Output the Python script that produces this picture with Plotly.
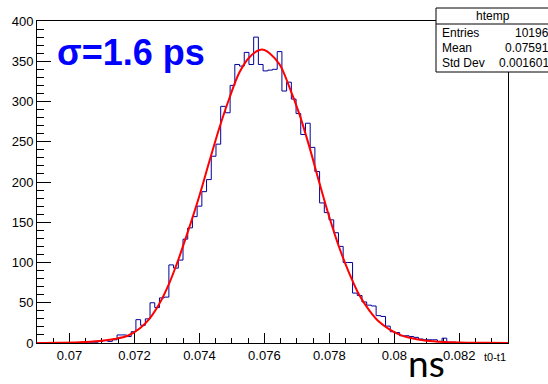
import numpy as np
import plotly.graph_objects as go

# ---- data ----
XMIN, XMAX, NBINS = 0.069, 0.0835, 100
COUNTS = [0, 0, 0, 0, 0, 0, 0, 0, 0, 0,
          1, 1, 1, 2, 3, 2, 4, 10, 10, 8,
          14, 29, 22, 30, 50, 44, 56, 57, 97, 93,
          103, 129, 143, 157, 170, 188, 203, 232, 247, 294,
          286, 320, 346, 344, 361, 346, 380, 346, 338, 339,
          340, 362, 313, 324, 303, 285, 259, 273, 243, 213,
          174, 162, 153, 137, 120, 100, 100, 62, 59, 51,
          47, 46, 34, 33, 21, 14, 13, 9, 9, 8,
          7, 5, 4, 4, 4, 2, 6, 1, 1, 0,
          0, 0, 0, 0, 0, 0, 0, 0, 0, 0]

FIT_X = [0.06900, 0.06969, 0.07031, 0.07092, 0.07139, 0.07179, 0.07216, 0.07246,
         0.07277, 0.07308, 0.07339, 0.07370, 0.07400, 0.07431, 0.07462, 0.07493,
         0.07523, 0.07554, 0.07585, 0.07600, 0.07616, 0.07647, 0.07677, 0.07708,
         0.07739, 0.07770, 0.07801, 0.07831, 0.07862, 0.07893, 0.07924, 0.07954,
         0.07985, 0.08016, 0.08047, 0.08093, 0.08139, 0.08201, 0.08278, 0.08350]
FIT_Y = [0.1, 0.3, 0.9, 2.5, 5, 9, 18, 30,
         49, 75, 108, 145, 183, 226, 268, 305,
         336, 355, 364, 364, 360, 346, 318, 284,
         243, 198, 155, 118, 86, 59, 40, 26,
         17, 10.5, 6.5, 3, 1.5, 0.5, 0.2, 0.1]

XTICKS = [0.07, 0.072, 0.074, 0.076, 0.078, 0.08, 0.082]
XTICK_TEXT = ["0.07", "0.072", "0.074", "0.076", "0.078", "0.08", "0.082"]
YTICKS = [0, 50, 100, 150, 200, 250, 300, 350, 400]

STATS_TITLE = "htemp"
STATS_NAMES = ["Entries", "Mean", "Std Dev"]
STATS_VALUES = ["10196", "0.07591", "0.001601"]
SIGMA_TEXT = "σ=1.6 ps"
UNIT_TEXT = "ns"
XTITLE = "t0-t1"

# ---- layout geometry (pixels) ----
W, H = 548, 384
L, R, T, B = 37, 508, 21, 343


def px(xp):
    return (xp - L) / (R - L)


def py(yp):
    return (B - yp) / (B - T)


edges = np.linspace(XMIN, XMAX, NBINS + 1)
step_y = list(COUNTS) + [COUNTS[-1]]

fig = go.Figure()
fig.add_trace(go.Scatter(x=edges, y=step_y, mode="lines",
                         line=dict(shape="hv", color="#000099", width=1),
                         hoverinfo="skip"))
fig.add_trace(go.Scatter(x=FIT_X, y=FIT_Y, mode="lines",
                         line=dict(shape="spline", color="#ff0000", width=2),
                         hoverinfo="skip"))

axis_font = dict(family="Liberation Sans, Arial, sans-serif", size=13, color="black")
fig.update_layout(
    width=W, height=H,
    margin=dict(l=L, r=W - R, t=T, b=H - B, pad=0),
    paper_bgcolor="white", plot_bgcolor="white",
    showlegend=False,
    xaxis=dict(range=[XMIN, XMAX], showgrid=False, zeroline=False,
               showline=True, linecolor="black", linewidth=1, mirror=True,
               tickmode="array", tickvals=XTICKS, ticktext=XTICK_TEXT,
               ticks="inside", ticklen=10, tickcolor="black", tickwidth=1,
               tickfont=axis_font, layer="below traces",
               minor=dict(ticks="inside", ticklen=5, tickcolor="black",
                          tickmode="linear", tick0=0.07, dtick=0.0005, showgrid=False)),
    yaxis=dict(range=[0, 400], showgrid=False, zeroline=False,
               showline=True, linecolor="black", linewidth=1, mirror=True,
               tickmode="array", tickvals=YTICKS,
               ticks="inside", ticklen=14, tickcolor="black", tickwidth=1,
               tickfont=axis_font, layer="below traces",
               minor=dict(ticks="inside", ticklen=7, tickcolor="black",
                          tickmode="linear", tick0=0, dtick=10, showgrid=False)),
)

# stats box
bx0, bx1, by0, by1, bhead = 436, 562, 8, 72, 24
fig.add_shape(type="rect", xref="paper", yref="paper",
              x0=px(bx0), x1=px(bx1), y0=py(by1), y1=py(by0),
              line=dict(color="black", width=1), fillcolor="white", layer="above")
fig.add_shape(type="line", xref="paper", yref="paper",
              x0=px(bx0), x1=px(bx1), y0=py(bhead), y1=py(bhead),
              line=dict(color="black", width=1), layer="above")
stat_font = dict(family="Liberation Sans, Arial, sans-serif", size=12, color="black")
fig.add_annotation(xref="paper", yref="paper", x=px(493), y=py(16), text=STATS_TITLE,
                   showarrow=False, xanchor="center", yanchor="middle", font=stat_font)
for i, (n, v) in enumerate(zip(STATS_NAMES, STATS_VALUES)):
    yy = py(33 + 15 * i)
    fig.add_annotation(xref="paper", yref="paper", x=px(440), y=yy, text=n,
                       showarrow=False, xanchor="left", yanchor="middle", font=stat_font)
    fig.add_annotation(xref="paper", yref="paper", x=px(551), y=yy, text=v,
                       showarrow=False, xanchor="right", yanchor="middle", font=stat_font)

# sigma label
fig.add_annotation(xref="paper", yref="paper", x=px(55), y=py(53), text="<b>" + SIGMA_TEXT + "</b>",
                   showarrow=False, xanchor="left", yanchor="middle",
                   font=dict(family="Liberation Sans, Arial, sans-serif", size=36, color="#0000ff"))
# unit label
fig.add_annotation(xref="paper", yref="paper", x=px(426), y=py(387), text=UNIT_TEXT,
                   showarrow=False, xanchor="center", yanchor="bottom",
                   font=dict(family="Lato, Liberation Sans, Arial, sans-serif",
                             size=37, color="black"))
# axis title (ROOT style, right-aligned)
fig.add_annotation(xref="paper", yref="paper", x=px(508), y=py(357), text=XTITLE,
                   showarrow=False, xanchor="right", yanchor="middle",
                   font=dict(family="Liberation Sans, Arial, sans-serif", size=11, color="black"))

fig.write_html("out.html")
